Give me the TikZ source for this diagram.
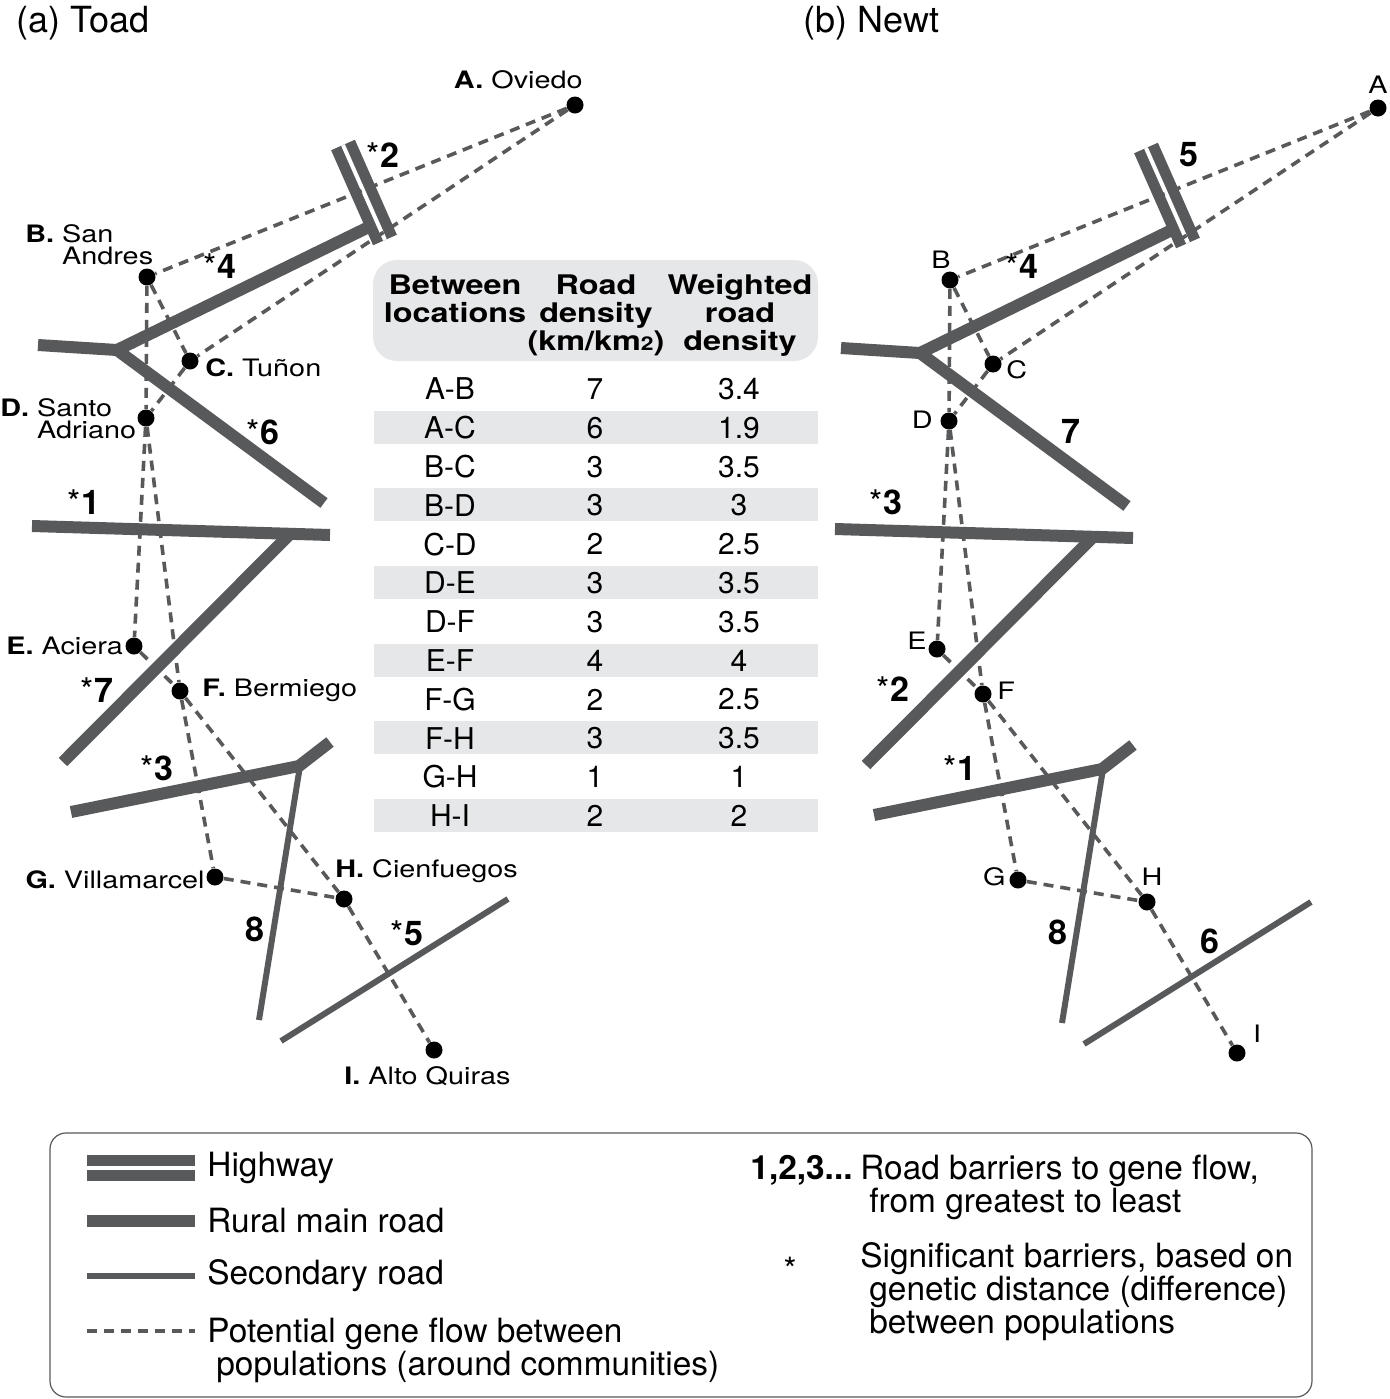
\documentclass[tikz,border=0pt]{standalone}
\usepackage{fontspec}
\setmainfont{TeX Gyre Heros}
\newfontfamily\mapfont[FakeStretch=1.2]{TeX Gyre Heros}
\usetikzlibrary{positioning}
\definecolor{road_grey}{RGB}{88, 89, 91}
\definecolor{band_grey}{RGB}{230, 231, 232}
\tikzstyle{town}=[circle,fill=black,inner sep=0pt,minimum size=8.5pt]
\tikzstyle{highway}=[draw=road_grey,line width=13pt]
\tikzstyle{hwgap}=[draw=white,line width=2pt]
\tikzstyle{mainroad}=[draw=road_grey,line width=6pt]
\tikzstyle{secroad}=[draw=road_grey,line width=3pt]
\tikzstyle{flow}=[draw=road_grey,line width=1.8pt,dash pattern=on 5pt off 3.5pt]
\tikzstyle{townlbl}=[inner sep=0pt,font=\mapfont\fontsize{12}{11}\selectfont]
\tikzstyle{barrier}=[inner sep=0pt,font=\bfseries\fontsize{17}{17}\selectfont]
\tikzstyle{paneltitle}=[inner sep=0pt,anchor=base west,font=\fontsize{18}{18}\selectfont]
\tikzstyle{tabhead}=[inner sep=0pt,anchor=north,align=center,
  font=\mapfont\bfseries\fontsize{13.5}{14}\selectfont]
\tikzstyle{tabcell}=[inner sep=0pt,font=\fontsize{15}{15}\selectfont]
\tikzstyle{legtext}=[inner sep=0pt,align=left,font=\fontsize{16.7}{16.5}\selectfont]

\begin{document}
\begin{tikzpicture}[x=0.5pt,y=-0.5pt]
\useasboundingbox (0,0) rectangle (1389,1399);

% (a) Toad
\node [paneltitle] (ta) at (16,32) {(a) Toad};
\draw [mainroad] (375,224) -- (117,350) -- (324,503);
\draw [mainroad] (38,345) -- (117,350);
\draw [highway] (343,145) -- (385,240);
\draw [hwgap] (343,145) -- (385,240);
\draw [mainroad] (32,526) -- (330,535);
\draw [mainroad] (63,762) -- (291,533);
\draw [mainroad] (71,812) -- (299,766) -- (330,742);
\draw [secroad] (300,766) -- (259,1020);
\draw [secroad] (281,1041) -- (508,899);
\node [town] (A) at (575,105) {};
\node [town] (B) at (147,277) {};
\node [town] (C) at (190,361) {};
\node [town] (D) at (146,418) {};
\node [town] (E) at (134,646) {};
\node [town] (F) at (180,691) {};
\node [town] (G) at (215,877) {};
\node [town] (H) at (344,899) {};
\node [town] (I) at (434,1050) {};
\draw [flow] (A) -- (B);
\draw [flow] (A) -- (C);
\draw [flow] (B) -- (C);
\draw [flow] (B) -- (D);
\draw [flow] (C) -- (D);
\draw [flow] (D) -- (E);
\draw [flow] (D) -- (F);
\draw [flow] (E) -- (F);
\draw [flow] (F) -- (G);
\draw [flow] (F) -- (H);
\draw [flow] (G) -- (H);
\draw [flow] (H) -- (I);
\node [townlbl,anchor=base east] (lA) at (583,88) {\textbf{A.} Oviedo};
\node [townlbl,anchor=north west,align=left] (lB) at (25,224) {\textbf{B.} San\\\phantom{\textbf{B.} }Andres};
\node [townlbl,anchor=base west] (lC) at (205,376) {\textbf{C.} Tuñon};
\node [townlbl,anchor=north west,align=left] (lD) at (0,398) {\textbf{D.} Santo\\\phantom{\textbf{D.} }Adriano};
\node [townlbl,anchor=base west] (lE) at (6,654) {\textbf{E.} Aciera};
\node [townlbl,anchor=base west] (lF) at (202,696) {\textbf{F.} Bermiego};
\node [townlbl,anchor=base east] (lG) at (205,888) {\textbf{G.} Villamarcel};
\node [townlbl,anchor=base west] (lH) at (335,877) {\textbf{H.} Cienfuegos};
\node [townlbl,anchor=base west] (lI) at (344,1084) {\textbf{I.} Alto Quiras};
\node [barrier] (t2) at (383,155) {{\mdseries*}2};
\node [barrier] (t4) at (220,266) {{\mdseries*}4};
\node [barrier] (t6) at (263,432) {{\mdseries*}6};
\node [barrier] (t1) at (84,502) {{\mdseries*}1};
\node [barrier] (t7) at (97,690) {{\mdseries*}7};
\node [barrier] (t3) at (157,768) {{\mdseries*}3};
\node [barrier] (t8) at (255,929) {8};
\node [barrier] (t5) at (407,933) {{\mdseries*}5};

% (b) Newt
\node [paneltitle] (tb) at (803,32) {(b) Newt};
\begin{scope}[shift={(803,3)}]
\draw [mainroad] (375,224) -- (117,350) -- (324,503);
\draw [mainroad] (38,345) -- (117,350);
\draw [highway] (343,145) -- (385,240);
\draw [hwgap] (343,145) -- (385,240);
\draw [mainroad] (32,526) -- (330,535);
\draw [mainroad] (63,762) -- (291,533);
\draw [mainroad] (71,812) -- (299,766) -- (330,742);
\draw [secroad] (300,766) -- (259,1020);
\draw [secroad] (281,1041) -- (508,899);
\node [town] (nA) at (575,105) {};
\node [town] (nB) at (147,277) {};
\node [town] (nC) at (190,361) {};
\node [town] (nD) at (146,418) {};
\node [town] (nE) at (134,646) {};
\node [town] (nF) at (180,691) {};
\node [town] (nG) at (215,877) {};
\node [town] (nH) at (344,899) {};
\node [town] (nI) at (434,1050) {};
\end{scope}
\draw [flow] (nA) -- (nB);
\draw [flow] (nA) -- (nC);
\draw [flow] (nB) -- (nC);
\draw [flow] (nB) -- (nD);
\draw [flow] (nC) -- (nD);
\draw [flow] (nD) -- (nE);
\draw [flow] (nD) -- (nF);
\draw [flow] (nE) -- (nF);
\draw [flow] (nF) -- (nG);
\draw [flow] (nF) -- (nH);
\draw [flow] (nG) -- (nH);
\draw [flow] (nH) -- (nI);
\node [townlbl,anchor=base] (mA) at (1378,93) {A};
\node [townlbl,anchor=base] (mB) at (941,268) {B};
\node [townlbl,anchor=base west] (mC) at (1006,378) {C};
\node [townlbl,anchor=base east] (mD) at (933,428) {D};
\node [townlbl,anchor=base east] (mE) at (927,649) {E};
\node [townlbl,anchor=base west] (mF) at (997,699) {F};
\node [townlbl,anchor=base east] (mG) at (1006,885) {G};
\node [townlbl,anchor=base] (mH) at (1152,885) {H};
\node [townlbl,anchor=base] (mI) at (1257,1042) {I};
\node [barrier] (n5) at (1189,155) {5};
\node [barrier] (n4) at (1022,266) {{\mdseries*}4};
\node [barrier] (n7) at (1071,431) {7};
\node [barrier] (n3) at (886,502) {{\mdseries*}3};
\node [barrier] (n2) at (893,689) {{\mdseries*}2};
\node [barrier] (n1) at (960,768) {{\mdseries*}1};
\node [barrier] (n8) at (1058,932) {8};
\node [barrier] (n6) at (1210,941) {6};

% table
\fill [band_grey,rounded corners=12pt] (373,260) rectangle (818,361);
\node [tabhead] (h1) at (455,274) {Between\\locations};
\node [tabhead] (h2) at (596,274) {Road\\density\\(km/km{\fontsize{9.5}{9}\selectfont 2})};
\node [tabhead] (h3) at (740,274) {Weighted\\road\\density};
\foreach \pr/\dens/\wdens [count=\i] in {A-B/7/3.4, A-C/6/1.9, B-C/3/3.5, B-D/3/3,
    C-D/2/2.5, D-E/3/3.5, D-F/3/3.5, E-F/4/4, F-G/2/2.5, F-H/3/3.5, G-H/1/1, H-I/2/2}{
  \pgfmathsetmacro\ry{389+(\i-1)*38.8}
  \ifodd\i\else \fill [band_grey] (374,\ry-17) rectangle (818,\ry+16); \fi
  \node [tabcell] (p\i) at (450,\ry) {\pr};
  \node [tabcell] (r\i) at (595,\ry) {\dens};
  \node [tabcell] (w\i) at (739,\ry) {\wdens};
}

% legend
\draw [road_grey,line width=0.6pt,rounded corners=8pt] (50,1133) rectangle (1312,1397);
\coordinate (hw0) at (87,1168);
\coordinate (hw1) at (195,1168);
\coordinate (mr0) at (87,1221);
\coordinate (mr1) at (195,1221);
\coordinate (sr0) at (87,1276);
\coordinate (sr1) at (195,1276);
\coordinate (fl0) at (87,1331);
\coordinate (fl1) at (195,1331);
\draw [highway] (hw0) -- (hw1);
\draw [hwgap] (hw0) -- (hw1);
\draw [mainroad] (mr0) -- (mr1);
\draw [secroad] (sr0) -- (sr1);
\draw [flow] (fl0) -- (fl1);
\node [legtext,right=6pt of hw1] (hwt) {Highway};
\node [legtext,right=6pt of mr1] (mrt) {Rural main road};
\node [legtext,right=6pt of sr1] (srt) {Secondary road};
\node [legtext,anchor=north west] (flt) at (207,1318) {Potential gene flow between\\\hspace*{4.5pt}populations (around communities)};
\node [legtext,anchor=north east] (num) at (853,1155) {\textbf{1,2,3...}};
\node [legtext,anchor=north west] (numt) at (860,1155) {Road barriers to gene flow,\\\hspace*{4.5pt}from greatest to least};
\node [legtext] (star) at (790,1269) {*};
\node [legtext,anchor=north west] (start) at (860,1242) {Significant barriers, based on\\\hspace*{4.5pt}genetic distance (difference)\\\hspace*{4.5pt}between populations};
\end{tikzpicture}
\end{document}
